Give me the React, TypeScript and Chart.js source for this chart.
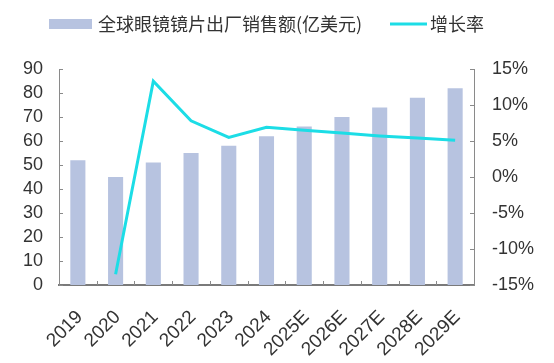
import React, { useEffect, useRef } from "react";
import { Chart, registerables } from "chart.js";

Chart.register(...registerables);

const categories = ["2019", "2020", "2021", "2022", "2023", "2024", "2025E", "2026E", "2027E", "2028E", "2029E"];
const salesValues = [52, 45, 51, 55, 58, 62, 66, 70, 74, 78, 82];
const growthValues: (number | null)[] = [null, -13.5, 13.3, 7.8, 5.5, 6.9, 6.5, 6.1, 5.7, 5.4, 5.1];
const leftTicks = [0, 10, 20, 30, 40, 50, 60, 70, 80, 90];
const rightTicks = [-15, -10, -5, 0, 5, 10, 15];
const salesLabel = "全球眼镜镜片出厂销售额(亿美元)";
const growthLabel = "增长率";

const BAR_COLOR = "#B7C3E0";
const LINE_COLOR = "#1CDDE6";
const TEXT_COLOR = "#333333";
const AXIS_COLOR = "#8a8a8a";
const FONT = "'Liberation Sans', Arial, sans-serif";
const CJK_FONT = "'Noto Sans CJK SC', 'Liberation Sans', sans-serif";

const customPlugin = {
  id: "customDecor",
  afterDraw(chart: any) {
    const ctx = chart.ctx;
    const area = chart.chartArea;
    const x = chart.scales.x;
    const y = chart.scales.y;
    const y1 = chart.scales.y1;
    ctx.save();
    ctx.strokeStyle = AXIS_COLOR;
    ctx.lineWidth = 1;
    leftTicks.forEach((v) => {
      const py = Math.round(y.getPixelForValue(v)) + 0.5;
      ctx.beginPath();
      ctx.moveTo(area.left, py);
      ctx.lineTo(area.left + 4, py);
      ctx.stroke();
    });
    rightTicks.forEach((v) => {
      const py = Math.round(y1.getPixelForValue(v)) + 0.5;
      ctx.beginPath();
      ctx.moveTo(area.right, py);
      ctx.lineTo(area.right - 4, py);
      ctx.stroke();
    });
    for (let i = 0; i <= categories.length; i++) {
      const px = Math.round(x.getPixelForValue(i - 0.5)) + 0.5;
      ctx.beginPath();
      ctx.moveTo(px, area.bottom);
      ctx.lineTo(px, area.bottom - 4);
      ctx.stroke();
    }
    // legend
    ctx.fillStyle = BAR_COLOR;
    ctx.fillRect(49, 19, 43, 10);
    ctx.fillStyle = TEXT_COLOR;
    ctx.font = "18px " + CJK_FONT;
    ctx.textBaseline = "middle";
    ctx.textAlign = "left";
    ctx.fillText(salesLabel, 98, 24);
    ctx.strokeStyle = LINE_COLOR;
    ctx.lineWidth = 3;
    ctx.beginPath();
    ctx.moveTo(390, 24);
    ctx.lineTo(427, 24);
    ctx.stroke();
    ctx.fillText(growthLabel, 430, 24);
    ctx.restore();
  },
};

export default function App() {
  const ref = useRef<HTMLCanvasElement>(null);
  useEffect(() => {
    if (!ref.current) return;
    const chart = new Chart(ref.current, {
      type: "bar",
      data: {
        labels: categories,
        datasets: [
          {
            type: "line",
            label: growthLabel,
            data: growthValues,
            yAxisID: "y1",
            borderColor: LINE_COLOR,
            backgroundColor: LINE_COLOR,
            borderWidth: 3,
            pointRadius: 0,
            tension: 0,
            spanGaps: false,
            order: 0,
          },
          {
            type: "bar",
            label: salesLabel,
            data: salesValues,
            yAxisID: "y",
            backgroundColor: BAR_COLOR,
            barPercentage: 0.4,
            categoryPercentage: 1,
            order: 1,
          },
        ],
      },
      options: {
        animation: false,
        responsive: false,
        maintainAspectRatio: false,
        layout: { padding: { top: 69, left: 0, right: 0, bottom: 0 } },
        plugins: { legend: { display: false }, tooltip: { enabled: false } },
        scales: {
          x: {
            grid: { display: false, drawTicks: false },
            border: { display: true, color: "#7a7a7a", width: 2 },
            ticks: {
              color: TEXT_COLOR,
              font: { family: FONT, size: 19 },
              minRotation: 45,
              maxRotation: 45,
              padding: 21,
              labelOffset: 2,
              autoSkip: false,
            },
            afterFit: (s: any) => {
              s.height = 78;
            },
          },
          y: {
            position: "left",
            min: 0,
            max: 90,
            grid: { display: false, drawTicks: false },
            border: { display: true, color: AXIS_COLOR, width: 1 },
            ticks: {
              stepSize: 10,
              autoSkip: false,
              color: TEXT_COLOR,
              font: { family: FONT, size: 18 },
              padding: 16,
            },
            afterFit: (s: any) => {
              s.width = 59;
            },
          },
          y1: {
            position: "right",
            min: -15,
            max: 15,
            grid: { display: false, drawTicks: false },
            border: { display: true, color: AXIS_COLOR, width: 1 },
            ticks: {
              stepSize: 5,
              autoSkip: false,
              color: TEXT_COLOR,
              font: { family: FONT, size: 18 },
              padding: 18,
              callback: (v: any) => v + "%",
            },
            afterFit: (s: any) => {
              s.width = 80;
            },
          },
        },
      },
      plugins: [customPlugin],
    } as any);
    return () => chart.destroy();
  }, []);
  return (
    <div style={{ position: "fixed", left: 0, top: 0, width: 554, height: 363, background: "#fff" }}>
      <canvas ref={ref} width={554} height={363} style={{ display: "block" }} />
    </div>
  );
}
